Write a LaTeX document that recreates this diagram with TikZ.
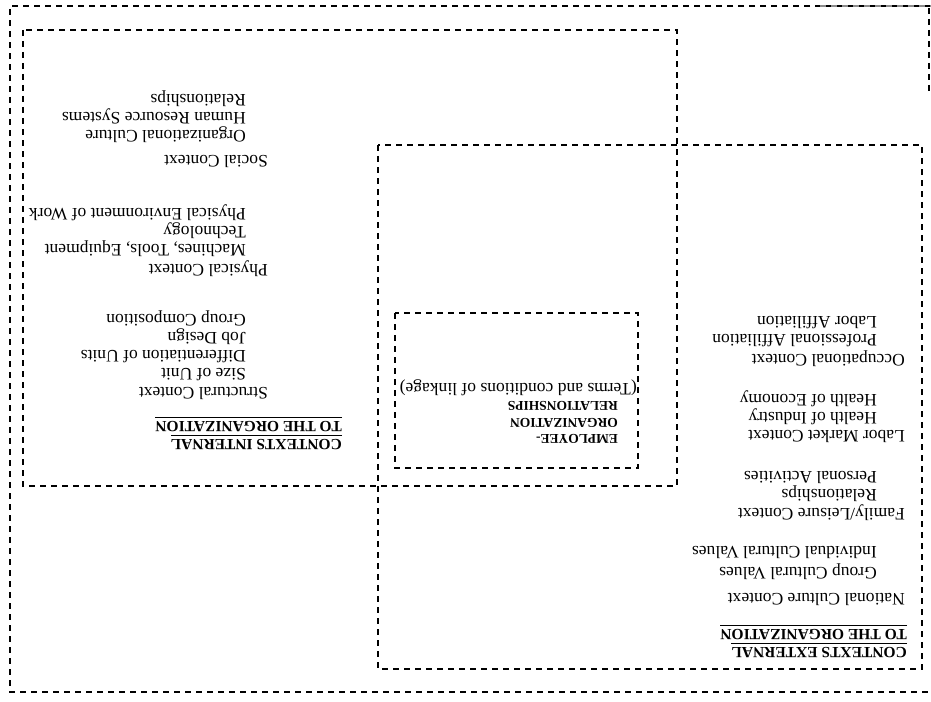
\documentclass[tikz,border=0pt]{standalone}
\usepackage{fontspec}
\setmainfont{Liberation Serif}
\usepackage{tikz}
\usetikzlibrary{positioning}
\tikzstyle{frame} = [
draw=black,
line width=1.1bp,
dash pattern=on 6bp off 5bp
]
\tikzstyle{heading} = [
rotate=180,
anchor=west,
inner sep=0pt,
text height=11bp,
text depth=3bp,
font=\fontsize{15.5bp}{18bp}\selectfont\bfseries
]
\tikzstyle{context} = [
rotate=180,
anchor=west,
inner sep=0pt,
text height=11.5bp,
text depth=3.5bp,
font=\fontsize{17.5bp}{20bp}\selectfont
]
\tikzstyle{linkage} = [
heading,
font=\fontsize{13.5bp}{16bp}\selectfont\bfseries
]
\tikzstyle{rule} = [
line width=1.3bp
]

\begin{document}
\begin{tikzpicture}[x={(1bp,0)},y={(0,-1bp)}]
\useasboundingbox (0,0) rectangle (931,702);
%Frames
\draw[frame] (931,6) -- (10,6) -- (10,692) -- (931,692);
\draw[frame,draw=black!45] (820,6) -- (931,6);
\draw[frame] (929,8) -- (929,92);
\draw[frame] (23,30) rectangle (677,486);
\draw[frame] (378,145) rectangle (922,669);
\draw[frame] (395,313) rectangle (638,468);
%Internal contexts
\node[heading] (intA) at (342,443) {CONTEXTS INTERNAL};
\node[heading] (intB) at (342,425) {TO THE ORGANIZATION};
\node[context] (struct) at (268,391) {Structural Context};
\node[context] (size) at (246,372) {Size of Unit};
\node[context] (diff) at (246,354) {Differentiation of Units};
\node[context] (job) at (246,336) {Job Design};
\node[context] (group) at (246,318) {Group Composition};
\node[context] (phys) at (268,268) {Physical Context};
\node[context] (mach) at (246,248) {Machines, Tools, Equipment};
\node[context] (tech) at (246,230) {Technology};
\node[context] (env) at (246,212) {Physical Environment of Work};
\node[context] (social) at (268,160) {Social Context};
\node[context] (culture) at (246,135) {Organizational Culture};
\node[context] (hrs) at (246,117) {Human Resource Systems};
\node[context] (rel) at (246,99) {Relationships};
%External contexts
\node[heading] (extA) at (907,651) {CONTEXTS EXTERNAL};
\node[heading] (extB) at (907,633) {TO THE ORGANIZATION};
\node[context] (nat) at (905,597) {National Culture Context};
\node[context] (gcv) at (877,571) {Group Cultural Values};
\node[context] (icv) at (877,550) {Individual Cultural Values};
\node[context] (fam) at (905,512) {Family/Leisure Context};
\node[context] (frel) at (877,493) {Relationships};
\node[context] (pers) at (877,475) {Personal Activities};
\node[context] (labor) at (905,434) {Labor Market Context};
\node[context] (ind) at (877,416) {Health of Industry};
\node[context] (econ) at (877,398) {Health of Economy};
\node[context] (occ) at (905,358) {Occupational Context};
\node[context] (prof) at (877,338) {Professional Affiliation};
\node[context] (laff) at (877,320) {Labor Affiliation};
%Employee-organization relationships
\node[linkage] (emp) at (618,438) {EMPLOYEE-};
\node[linkage] (org) at (618,422) {ORGANIZATION};
\node[linkage] (ships) at (618,405) {RELATIONSHIPS};
\node[context] (terms) at (637,387) {(Terms and conditions of linkage)};
%Underlines
\draw[rule] (intA.south west) -- (intA.south east);
\draw[rule] (intB.south west) -- (intB.south east);
\draw[rule] (extA.south west) -- (extA.south east);
\draw[rule] (extB.south west) -- (extB.south east);
\end{tikzpicture}
\end{document}
